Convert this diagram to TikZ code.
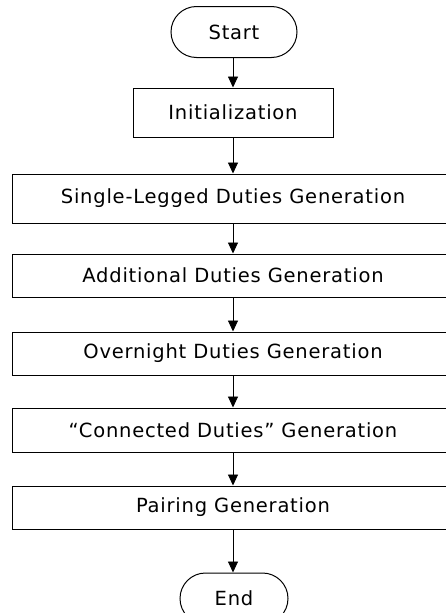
\documentclass[tikz,border=0pt]{standalone}
\usepackage{fontspec}
\setmainfont[LetterSpace=4]{DejaVu Sans}
\usetikzlibrary{arrows.meta, shapes.misc}
\tikzset{>={Triangle[length=11pt,width=10pt]}}
\tikzset{
	terminal/.style = {draw, line width=1pt, rounded rectangle, minimum height=51pt, inner sep=0pt},
	process/.style = {draw, line width=1pt, rectangle, inner sep=0pt},
	flow/.style = {->, line width=0.9pt}
}

\begin{document}
\begin{tikzpicture}[x=1pt, y=-1pt, font=\fontsize{19.5}{23}\selectfont]
	\useasboundingbox (0,0) rectangle (445,613);
	\node[terminal, minimum width=126pt] (start) at (234,32) {Start};
	\node[process, minimum width=200pt, minimum height=49pt] (init) at (233,112.5) {Initialization};
	\node[process, minimum width=442pt, minimum height=49pt] (single) at (233,198.5) {Single-Legged Duties Generation};
	\node[process, minimum width=442pt, minimum height=43pt] (addit) at (233,275.5) {Additional Duties Generation};
	\node[process, minimum width=442pt, minimum height=43pt] (overn) at (233,353.5) {Overnight Duties Generation};
	\node[process, minimum width=442pt, minimum height=44pt] (conn) at (233,430) {“Connected Duties” Generation};
	\node[process, minimum width=442pt, minimum height=43pt] (pair) at (233,507.5) {Pairing Generation};
	\node[terminal, minimum width=108pt] (end) at (234,598.5) {End};
	\foreach \a/\b in {start/init, init/single, single/addit, addit/overn, overn/conn, conn/pair, pair/end}
	\draw[flow] (\a.south -| 233,0) -- (\b.north -| 233,0);
\end{tikzpicture}
\end{document}
